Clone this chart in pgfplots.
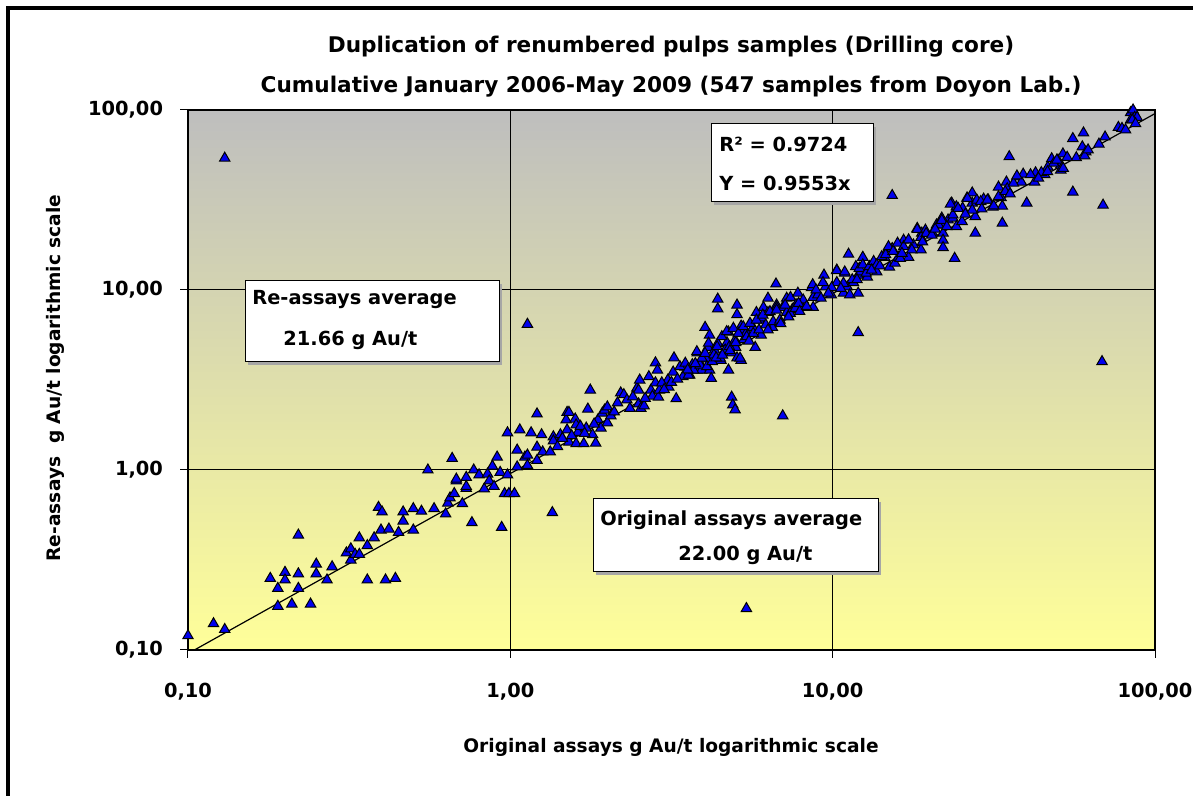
\documentclass[border=0pt]{standalone}
\usepackage{fontspec}
\setmainfont{DejaVu Sans}
\usepackage{pgfplots}
\pgfplotsset{compat=1.18}

\definecolor{topgray}{RGB}{190,190,190}
\definecolor{botyellow}{RGB}{255,255,153}
\definecolor{markblue}{RGB}{0,0,240}

\begin{document}
\begin{tikzpicture}
% picture frame: 1193x796 px at 0.5pt per px, axis box south west at origin
\path[use as bounding box] (-94pt,-73pt) rectangle (502.5pt,325pt);
\begin{axis}[
  name=ax,
  anchor=south west, at={(0,0)},
  scale only axis,
  width=483.5pt, height=270pt,
  xmode=log, ymode=log,
  xmin=0.1, xmax=100, ymin=0.1, ymax=100,
  xtick={0.1,1,10,100}, ytick={0.1,1,10,100},
  xticklabels={{0,10},{1,00},{10,00},{100,00}},
  yticklabels={{0,10},{1,00},{10,00},{100,00}},
  minor xtick={}, minor ytick={},
  minor tick style={draw=none},
  xtick pos=left, ytick pos=left,
  tick align=outside, major tick length=4pt,
  tick style={black, line width=0.5pt},
  grid=major,
  major grid style={black, line width=0.5pt},
  axis line style={line width=1pt},
  xticklabel style={font=\fontsize{9.7}{11}\selectfont\bfseries, yshift=-9pt},
  yticklabel style={font=\fontsize{9.7}{11}\selectfont\bfseries, xshift=-5pt},
  axis background/.style={top color=topgray, bottom color=botyellow},
]
\addplot[black, line width=0.6pt] coordinates {(0.1,0.09553) (100,95.53)};
\addplot[only marks, mark=triangle*, mark size=3pt,
  mark options={fill=markblue, draw=black, line width=0.5pt}] coordinates {
(0.10,0.12) (0.12,0.14) (0.13,0.13) (0.13,54) (0.18,0.25) (0.19,0.22)
(0.19,0.175) (0.20,0.27) (0.20,0.245) (0.21,0.18) (0.22,0.435) (0.22,0.265)
(0.22,0.22) (0.24,0.18) (0.25,0.30) (0.25,0.265) (0.27,0.245) (0.28,0.29)
(0.31,0.346) (0.32,0.365) (0.32,0.316) (0.33,0.34) (0.34,0.34) (0.34,0.42)
(0.36,0.38) (0.36,0.245) (0.378,0.42) (0.397,0.464) (0.39,0.62) (0.40,0.585)
(0.41,0.245) (0.42,0.47) (0.44,0.25) (0.45,0.45) (0.465,0.585) (0.465,0.52)
(0.50,0.61) (0.50,0.464) (0.53,0.59) (0.555,1.0) (0.58,0.61) (0.63,0.57)
(0.64,0.655) (0.65,0.70) (0.66,1.16) (0.67,0.74) (0.68,0.87) (0.68,0.89)
(0.71,0.65) (0.73,0.79) (0.73,0.91) (0.73,0.81) (0.76,0.51) (0.77,1.0)
(0.80,0.94) (0.83,0.785) (0.85,0.95) (0.86,0.87) (0.89,0.81) (0.88,1.05)
(0.91,1.18) (0.93,0.97) (0.94,0.48) (0.96,0.74) (0.98,1.61) (0.98,0.94)
(0.99,0.74) (1.03,0.74) (1.05,1.04) (1.05,1.29) (1.07,1.67) (1.11,1.18)
(1.13,1.06) (1.13,6.45) (1.13,1.21) (1.16,1.61) (1.21,2.05) (1.21,1.13)
(1.21,1.34) (1.25,1.57) (1.26,1.26) (1.33,1.26) (1.35,0.58) (1.36,1.53)
(1.36,1.45) (1.43,1.57) (1.49,1.9) (1.50,2.09) (1.52,2.09) (1.50,1.67)
(1.52,1.43) (1.59,1.92) (1.60,1.78) (1.62,1.62) (1.60,1.40) (1.69,1.40)
(1.72,1.71) (1.74,2.18) (1.77,2.78) (1.80,1.57) (1.84,1.41) (1.87,1.9)
(1.91,1.71) (1.93,2.07) (1.96,2.15) (2.0,2.24) (2.0,1.83) (2.05,2.0)
(2.15,2.36) (2.2,2.68) (2.25,2.62) (2.47,2.85) (2.5,2.33) (2.52,3.16)
(2.5,2.78) (2.54,2.2) (2.6,2.27) (2.69,3.3) (2.73,2.78) (2.76,2.57)
(2.82,3.05) (2.82,3.94) (2.86,3.59) (2.88,2.54) (2.9,2.78) (3.08,3.16)
(3.1,2.89) (3.16,3.07) (3.2,3.5) (3.22,4.2) (3.27,2.49) (3.43,3.3)
(3.48,3.73) (3.6,3.37) (3.67,3.85) (3.8,4.47) (3.8,3.59) (3.9,3.85)
(3.92,3.59) (4.02,6.2) (4.15,5.62) (4.1,4.8) (4.07,4.14) (4.15,3.59)
(4.2,3.23) (4.3,4.64) (4.4,5.05) (4.4,7.86) (4.4,8.9) (4.5,4.07)
(4.6,4.5) (4.7,5.1) (4.75,5.84) (4.75,3.59) (4.86,4.47) (4.86,2.54)
(4.9,2.3) (4.98,2.16) (5.0,4.8) (5.05,7.3) (5.05,8.25) (5.05,4.2)
(5.2,4.07) (5.2,6.0) (5.2,6.3) (5.3,5.3) (5.4,0.17) (5.4,5.8)
(5.66,6.2) (5.75,4.8) (5.8,7.5) (5.92,6.8) (6.0,5.62) (6.0,7.0)
(6.1,8.0) (6.3,9.0) (6.3,7.5) (6.5,6.2) (6.67,10.8) (6.7,8.25)
(6.7,8.0) (7.0,2.0) (7.0,8.0) (7.2,9.0) (7.2,7.5) (7.4,9.1)
(7.5,7.8) (7.8,9.6) (7.7,8.3) (8.05,8.0) (8.1,8.8) (8.6,10.3)
(8.7,9.1) (8.7,8.0) (9.0,9.4) (9.4,12.1) (9.5,10.4) (9.9,9.4)
(10.3,12.9) (10.3,11.0) (10.8,9.6) (10.9,12.4) (11.1,10.4) (11.2,15.8)
(11.3,9.4) (11.6,11.0) (12.0,12.1) (12.0,9.6) (12.0,5.8) (12.2,12.6)
(12.4,15.2) (12.8,11.8) (13.0,13.4) (13.4,14.1) (13.7,12.6) (14.5,15.2)
(14.9,17.1) (15.0,13.4) (15.3,33.5) (15.3,17.0) (15.6,14.1) (16.0,15.2)
(16.6,18.9) (17.2,15.2) (17.8,17.8) (18.3,22) (18.8,16.7) (18.9,20.7)
(19.4,21.5) (20.4,20.7) (21,23) (22,23) (22,20.7) (22,18.9)
(22,17.2) (22.8,24.5) (21.8,25.1) (23.4,30.4) (23.6,25.1) (23.9,15.0)
(24.2,29) (24.2,22.5) (25.3,28.5) (26.1,32.4) (27.1,34.6) (27.1,30.4)
(27.7,25.6) (27.7,20.7) (28.0,31.6) (29.4,32) (30.4,31.6) (31.4,28.9)
(32.7,37.3) (33.3,32.6) (33.6,29.2) (33.6,23.5) (34.6,39.8) (34.8,36.5)
(35.3,55) (37.3,42.5) (38.5,39.8) (39,44) (40,30.4) (42.3,39.8)
(42.6,44.8) (45.5,43.7) (46.5,48.2) (47.8,53.6) (50,52.7) (51,49.4)
(51,46.4) (51.8,57) (55.6,69.4) (55.6,35) (57,54.3) (59.5,62.4)
(60,74.6) (61,58.5) (60.5,55.6) (67,64.6) (68.5,4.0) (69,29.6)
(70,70.8) (77,80) (79,79) (81,77.6) (84,96.6) (85.5,100)
(86.5,91) (88,91) (84,88) (85,88) (87,84)
(8.67,10.7) (8.88,10.0) (9.33,11.0) (9.93,10.3) (10.3,12.8) (10.8,10.9)
(10.9,12.6) (11.5,11.4) (11.8,13.5) (12.1,13.2) (12.4,13.8) (12.7,12.4)
(13.0,13.5) (13.4,14.4) (13.7,13.8) (14.2,15.3) (14.6,15.7) (14.9,17.4)
(15.4,16.4) (15.9,18.2) (16.2,15.0) (16.6,17.4) (17.2,19.0) (17.6,16.7)
(18.3,21.7) (18.8,19.6) (19.5,20.6) (20.3,20.2) (21.3,23.0) (21.8,24.4)
(22.6,22.5) (23.2,30.0) (23.6,26.1) (24.5,28.4) (25.2,24.0) (26.2,32.3)
(27.1,27.8) (28.8,31.0) (30.2,31.6) (31.6,29.3) (32.7,33.0) (34.3,35.2)
(36.4,39.2) (37.3,43.0) (41.1,43.7) (44.4,44.9) (46.4,45.4) (48.5,50.6)
(49.6,52.7) (51.9,47.4) (53.4,54.6)
(3.36,3.75) (3.49,3.92) (3.57,3.37) (3.70,3.59) (3.79,4.54) (3.88,3.83)
(3.93,4.18) (4.02,4.45) (4.07,3.75) (4.12,5.06) (4.23,4.0) (4.28,4.36)
(4.38,4.84) (4.48,4.18) (4.53,5.5) (4.64,4.64) (4.69,5.87) (4.78,4.84)
(4.92,6.13) (4.98,5.27) (5.10,5.74) (5.16,4.18) (5.28,6.25) (5.41,5.5)
(5.54,6.53) (5.67,5.74) (5.80,6.81) (5.91,6.0) (6.07,7.26) (6.2,6.4)
(6.39,7.58) (6.54,6.67) (6.70,7.74) (6.86,6.81) (7.12,8.25) (7.38,7.42)
(7.66,7.9) (7.84,8.43)
(1.40,1.35) (1.45,1.50) (1.55,1.55) (1.65,1.75) (1.70,1.60) (1.82,1.80)
(2.10,2.10) (2.30,2.45) (2.35,2.20) (2.40,2.55) (2.62,2.50) (2.95,3.05)
(3.00,2.80) (3.30,3.20) (3.55,3.60) (3.75,3.90) (4.35,4.20) (4.55,4.35)
(4.80,4.60) (5.00,5.10) (5.50,5.20) (6.30,6.00) (6.90,6.50) (7.30,7.10)
(7.90,7.60) (8.30,8.10) (9.20,9.00) (9.70,9.60) (10.6,10.2) (11.9,11.4)
(13.2,12.9) (14.0,13.6) (16.4,16.0) (19.0,18.5) (20.8,21.8) (25.8,26.4)
(29.0,28.2) (35.5,34.2) (43.5,41.8) (62.0,60.0)
};
\end{axis}
\begin{scope}[shift={(-94pt,325pt)}, x=0.5pt, y=-0.5pt]
  \draw[line width=1.6pt] (8,800) -- (8,8) -- (1200,8);
  % titles
  \node[font=\fontsize{10.8}{12}\selectfont\bfseries] at (671,47)
    {Duplication of renumbered pulps samples (Drilling core)};
  \node[font=\fontsize{10.8}{12}\selectfont\bfseries] at (671,87)
    {Cumulative January 2006-May 2009 (547 samples from Doyon Lab.)};
  \node[font=\fontsize{9.3}{11}\selectfont\bfseries] at (671,747)
    {Original assays g Au/t logarithmic scale};
  \node[font=\fontsize{9.3}{11}\selectfont\bfseries, rotate=90] at (55,378)
    {Re-assays\ \ g Au/t logarithmic scale};
  % text boxes
  \fill[gray!70] (248,284) rectangle (502,365);
  \draw[fill=white, line width=0.5pt] (245,281) rectangle (499,362);
  \node[anchor=west, inner sep=0pt, font=\fontsize{9.7}{11}\selectfont\bfseries] at (252,300) {Re-assays average};
  \node[anchor=west, inner sep=0pt, font=\fontsize{9.7}{11}\selectfont\bfseries] at (283,340) {21.66 g Au/t};
  \fill[gray!70] (596,502) rectangle (881,575);
  \draw[fill=white, line width=0.5pt] (593,499) rectangle (878,572);
  \node[anchor=west, inner sep=0pt, font=\fontsize{9.7}{11}\selectfont\bfseries] at (600,520) {Original assays average};
  \node[anchor=west, inner sep=0pt, font=\fontsize{9.7}{11}\selectfont\bfseries] at (678,555) {22.00 g Au/t};
  \fill[gray!70] (714,127) rectangle (876,205);
  \draw[fill=white, line width=0.5pt] (711,124) rectangle (873,202);
  \node[anchor=west, inner sep=0pt, font=\fontsize{9.7}{11}\selectfont\bfseries] at (719,144) {R² = 0.9724};
  \node[anchor=west, inner sep=0pt, font=\fontsize{9.7}{11}\selectfont\bfseries] at (719,183) {Y = 0.9553x};
\end{scope}
\end{tikzpicture}
\end{document}
